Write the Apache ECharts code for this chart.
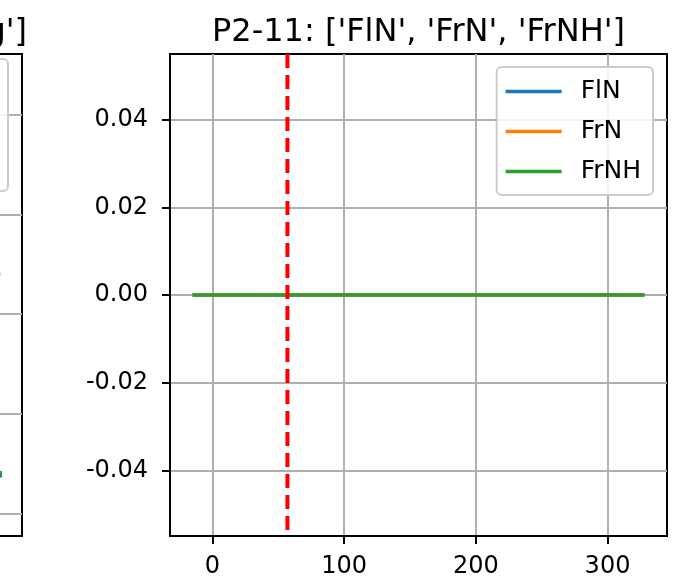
<!DOCTYPE html>
<html>
<head>
<meta charset="utf-8">
<script src="https://cdn.jsdelivr.net/npm/echarts@6/dist/echarts.min.js"></script>
<style>
html,body{margin:0;padding:0;background:#fff;}
#chart{width:678px;height:585px;}
</style>
</head>
<body>
<div id="chart"></div>
<script>
// ---- main subplot data ----
const titleText = "P2-11: ['FlN', 'FrN', 'FrNH']";
const seriesNames = ['FlN', 'FrN', 'FrNH'];
const xValues = [-15, 328];
const flN = [0, 0];
const frN = [0, 0];
const frNH = [0, 0];
const vlineX = 57;
const xTicks = [0, 100, 200, 300];
const yTicks = [-0.04, -0.02, 0.00, 0.02, 0.04];
const xRange = [-32.15, 345.15];
const yRange = [-0.055, 0.055];

// ---- partial neighbouring subplot (only its right edge is visible) ----
const leftTitleText = "g']";
const leftYTicks = [0, 1, 2, 3, 4];
const leftXRange = [0, 100];
const leftYRange = [-0.225, 4.61];
const leftOrangeX = [80, 93.3];
const leftOrangeY = [2.40, 2.40];
const leftBlueX = [80, 93.8];
const leftBlueY = [0.38, 0.38];
const leftGreenX = [80, 93.8];
const leftGreenY = [0.41, 0.41];

const colors = ['#1f77b4', '#ff7f0e', '#2ca02c'];
const FONT = 'DejaVu Sans';

function pairs(xs, ys) { return xs.map((x, i) => [x, ys[i]]); }

const chart = echarts.init(document.getElementById('chart'), null, {renderer: 'canvas'});

const mainSeriesData = [flN, frN, frNH];
const series = seriesNames.map((name, i) => ({
  name: name,
  type: 'line',
  xAxisIndex: 0, yAxisIndex: 0,
  data: pairs(xValues, mainSeriesData[i]),
  showSymbol: false, symbol: 'none',
  lineStyle: {color: colors[i], width: 3.5},
  itemStyle: {color: colors[i]},
  silent: true, z: 3
}));
series.push({
  name: 'vline',
  type: 'line',
  xAxisIndex: 0, yAxisIndex: 0,
  data: [[vlineX, yRange[1]], [vlineX, yRange[0]]],
  showSymbol: false, symbol: 'none',
  lineStyle: {color: '#ff0000', width: 4, type: [14, 7]},
  silent: true, z: 4
});
[[leftOrangeX, leftOrangeY, colors[1]], [leftBlueX, leftBlueY, colors[0]], [leftGreenX, leftGreenY, colors[2]]].forEach((d, i) => {
  series.push({
    name: 'left' + i, type: 'line', xAxisIndex: 1, yAxisIndex: 1,
    data: pairs(d[0], d[1]), showSymbol: false, symbol: 'none',
    lineStyle: {color: d[2], width: 3.5}, silent: true, z: 3
  });
});

const option = {
  animation: false,
  backgroundColor: '#ffffff',
  textStyle: {fontFamily: FONT},
  title: [
    {text: titleText, left: 413.5, textAlign: 'center', top: 12,
     textStyle: {fontFamily: FONT, fontSize: 32, fontWeight: 'normal', color: '#000'}},
    {text: leftTitleText, right: 646, top: 12,
     textStyle: {fontFamily: FONT, fontSize: 32, fontWeight: 'normal', color: '#000'}}
  ],
  legend: {
    data: seriesNames,
    orient: 'vertical',
    right: 25, top: 67,
    icon: 'rect',
    itemWidth: 56, itemHeight: 3.5,
    itemGap: 15,
    padding: [12, 12, 11, 9],
    backgroundColor: 'rgba(255,255,255,0.85)',
    borderColor: '#cccccc', borderWidth: 2, borderRadius: 5,
    textStyle: {fontFamily: FONT, fontSize: 25, color: '#000', lineHeight: 24, padding: [0, 0, 0, 14]},
    selectedMode: false
  },
  grid: [
    {left: 170, right: 11, top: 54, bottom: 49, show: true, borderColor: '#000', borderWidth: 2,
     backgroundColor: 'transparent', outerBoundsMode: 'none', containLabel: false},
    {left: -300, right: 656, top: 54, bottom: 49, show: true, borderColor: '#000', borderWidth: 2,
     backgroundColor: 'transparent', outerBoundsMode: 'none', containLabel: false}
  ],
  xAxis: [
    {type: 'value', gridIndex: 0, min: xRange[0], max: xRange[1],
     axisLine: {show: true, onZero: false, lineStyle: {color: '#000', width: 2}},
     axisTick: {show: true, length: 8, customValues: xTicks, lineStyle: {color: '#000', width: 2}},
     axisLabel: {customValues: xTicks, margin: 19, fontFamily: FONT, fontSize: 24, color: '#000'},
     splitLine: {show: true, lineStyle: {color: '#b0b0b0', width: 2}}},
    {type: 'value', gridIndex: 1, min: leftXRange[0], max: leftXRange[1],
     axisLine: {show: true, onZero: false, lineStyle: {color: '#000', width: 2}},
     axisTick: {show: false}, axisLabel: {show: false}, splitLine: {show: false}}
  ],
  yAxis: [
    {type: 'value', gridIndex: 0, min: yRange[0], max: yRange[1],
     axisLine: {show: true, onZero: false, lineStyle: {color: '#000', width: 2}},
     axisTick: {show: true, length: 8, customValues: yTicks, lineStyle: {color: '#000', width: 2}},
     axisLabel: {customValues: yTicks, margin: 22, fontFamily: FONT, fontSize: 24, color: '#000',
                 formatter: v => v.toFixed(2)},
     splitLine: {show: true, lineStyle: {color: '#b0b0b0', width: 2}}},
    {type: 'value', gridIndex: 1, min: leftYRange[0], max: leftYRange[1],
     axisLine: {show: true, onZero: false, lineStyle: {color: '#000', width: 2}},
     axisTick: {show: false, customValues: leftYTicks}, axisLabel: {show: false, customValues: leftYTicks},
     splitLine: {show: true, lineStyle: {color: '#b0b0b0', width: 2}}}
  ],
  graphic: [
    {type: 'rect', shape: {x: -100, y: 59, width: 108, height: 132, r: 5}, z: 10,
     style: {fill: 'rgba(255,255,255,0.85)', stroke: '#cccccc', lineWidth: 2}}
  ],
  series: series
};
chart.setOption(option);
</script>
</body>
</html>
